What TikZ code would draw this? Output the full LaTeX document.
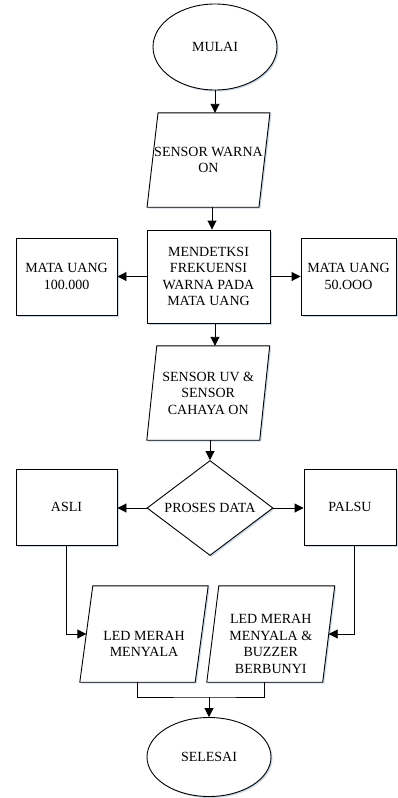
\documentclass[tikz,border=0pt]{standalone}
\usepackage{fontspec}
\setmainfont{Liberation Serif}
\usetikzlibrary{shapes.geometric,arrows.meta,shadows}
\definecolor{shd}{RGB}{205,218,232}
\newcommand\drawpara[3]{%
  \fill[shd] ([xshift=#2+1.5pt,yshift=-1.5pt]#1.north west) -- ([xshift=#2+1.5pt,yshift=-1.5pt]#1.north east) -- ([xshift=-#2+1.5pt,yshift=-1.5pt]#1.south east) -- ([xshift=-#2+1.5pt,yshift=-1.5pt]#1.south west) -- cycle;
  \filldraw[line,fill=white] ([xshift=#2]#1.north west) -- ([xshift=#2]#1.north east) -- ([xshift=-#2]#1.south east) -- ([xshift=-#2]#1.south west) -- cycle;
  \node[txt,yshift=#3] at (#1) {\csname ptext#1\endcsname};}
\begin{document}
\begin{tikzpicture}[x=1pt,y=-1pt,
  line/.style={line width=0.9pt,draw=black},
  txt/.style={font=\fontsize{14}{16.5}\selectfont,align=center,inner sep=0pt,text=black},
  shadowed/.style={drop shadow={shadow xshift=1.5pt,shadow yshift=-1.5pt,fill=shd,opacity=1}},
  box/.style={line,fill=white,shadowed,rectangle,txt,minimum width=#1},
  oval/.style={line,fill=white,shadowed,ellipse,txt,inner sep=0pt},
  pbox/.style={rectangle,txt,inner sep=0pt},
  arr/.style={line,-{Triangle[length=9pt,width=9pt]}},
  con/.style={line}]
\useasboundingbox (0,0) rectangle (397,798);

% terminals
\node[oval,minimum width=124pt,minimum height=86pt] (mulai) at (215,47) {MULAI};
\node[oval,minimum width=124pt,minimum height=79pt] (selesai) at (209,757) {SELESAI};

% parallelogram placeholders
\node[pbox,minimum width=111.5pt,minimum height=94pt] (pa) at (208.5,160) {};
\node[pbox,minimum width=112.5pt,minimum height=94pt] (pb) at (208.25,393) {};
\node[pbox,minimum width=115pt,minimum height=96pt] (pc) at (144,634) {};
\node[pbox,minimum width=115.5pt,minimum height=96pt] (pd) at (270.75,634) {};
\expandafter\def\csname ptextpa\endcsname{SENSOR WARNA\\ON}
\expandafter\def\csname ptextpb\endcsname{SENSOR UV \&\\SENSOR\\CAHAYA ON}
\expandafter\def\csname ptextpc\endcsname{LED MERAH\\MENYALA}
\expandafter\def\csname ptextpd\endcsname{LED MERAH\\MENYALA \&\\BUZZER\\BERBUNYI}
\drawpara{pa}{5.5pt}{0pt}
\drawpara{pb}{5pt}{0pt}
\drawpara{pc}{6.5pt}{-10pt}
\drawpara{pd}{6pt}{-10pt}

% process boxes
\node[box=123pt,minimum height=93pt] (det) at (208.5,276.5) {MENDETKSI\\FREKUENSI\\WARNA PADA\\MATA UANG};
\node[box=101pt,minimum height=77pt] (m100) at (66.5,276.5) {MATA UANG\\100.000};
\node[box=95pt,minimum height=77pt] (m50) at (348.5,276.5) {MATA UANG\\50.OOO};
\node[box=101pt,minimum height=76pt] (asli) at (66.5,507) {ASLI};
\node[box=92pt,minimum height=76pt] (palsu) at (350,507) {PALSU};

% decision
\node[line,fill=white,shadowed,diamond,txt,minimum width=126pt,minimum height=95pt,aspect=1.33] (dec) at (210,508) {PROSES DATA};

% connectors
\draw[arr] (mulai.south) -- (mulai.south |- pa.north);
\draw[arr] ([xshift=3.5pt]pa.south) -- ([xshift=3.5pt]pa.south |- det.north);
\draw[arr] (det.west |- m100.east) -- (m100.east);
\draw[arr] (det.east |- m50.west) -- (m50.west);
\draw[arr] ([xshift=6.5pt]det.south) -- ([xshift=6.5pt]det.south |- pb.north);
\draw[arr] (dec.north |- pb.south) -- (dec.north);
\draw[arr] (dec.west) -- (asli.east |- dec.west);
\draw[arr] (dec.east) -- (palsu.west |- dec.east);
\draw[arr] (asli.south) |- (pc.west);
\draw[arr] ([xshift=4pt]palsu.south) |- (pd.east);
\coordinate (join) at (209,697);
\draw[con] ([xshift=-6.5pt]pc.south) |- (join) -| ([xshift=-6pt]pd.south);
\draw[arr] (join) -- (selesai.north);
\end{tikzpicture}
\end{document}
